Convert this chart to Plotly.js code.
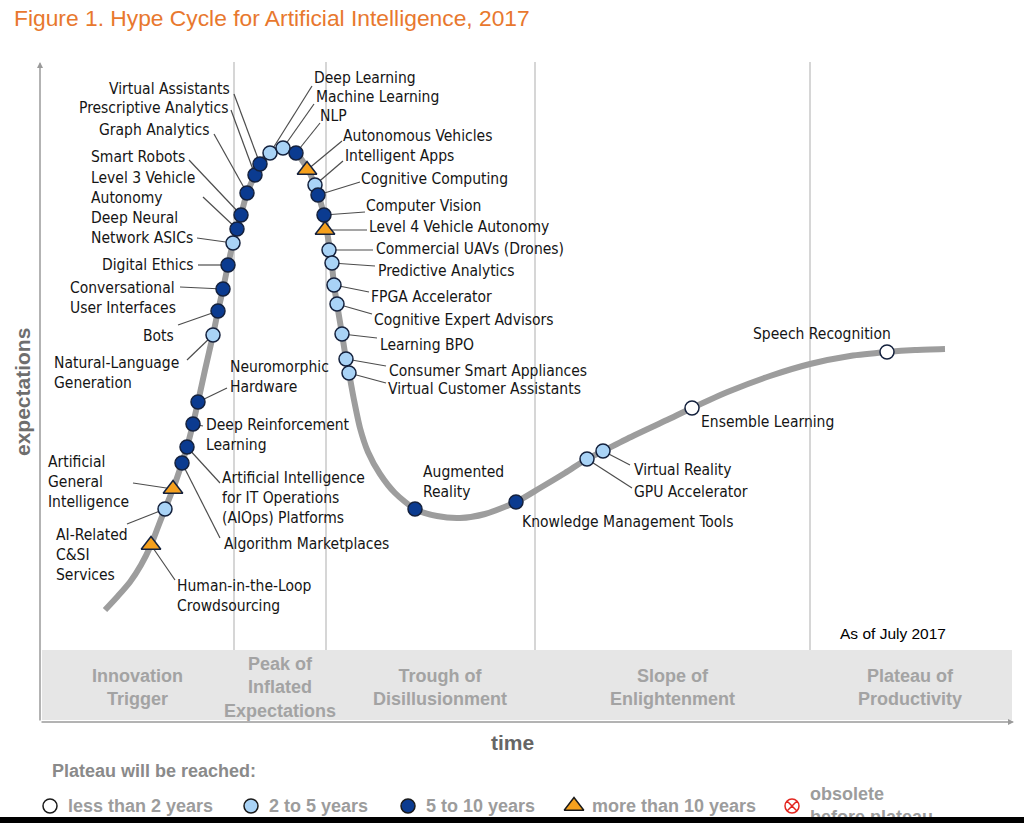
<!DOCTYPE html>
<html><head><meta charset="utf-8">
<script src="https://cdn.plot.ly/plotly-3.0.1.min.js"></script>
<style>html,body{margin:0;padding:0;background:#fff;overflow:hidden}#chart{width:1024px;height:823px}#bar{position:absolute;left:0;top:817px;width:1024px;height:6px;background:#000}</style>
</head><body><div id="chart"></div><div id="bar"></div>
<script>
// ---- Hype curve (time vs expectations) ----
const curveTime = [6.5,7.8,9.0,10.1,11.1,11.8,12.5,13.3,14.2,14.7,15.3,15.8,16.5,17.3,17.8,18.3,18.8,19.3,19.7,20.1,20.7,21.5,22.1,23.0,24.3,25.6,26.7,27.5,27.9,28.4,28.7,29.0,29.2,29.4,29.7,30.2,30.6,30.9,31.4,32.0,32.8,34.0,35.5,37.5,39.7,42.0,44.5,47.6,50.0,52.5,54.7,56.3,59.5,62.7,65.2,69.0,73.0,77.0,81.0,84.7,87.5,90.5];
const curveExpect = [11.2,12.6,14.0,15.7,17.7,19.5,21.3,23.3,25.9,27.5,29.8,32.0,35.2,38.7,41.1,43.3,45.7,47.9,49.3,50.7,52.9,54.7,55.9,56.9,57.4,56.9,55.4,53.7,52.5,50.7,49.0,47.2,45.7,43.7,41.8,38.8,36.3,34.9,32.2,29.4,27.0,24.8,22.9,21.3,20.6,20.4,20.8,22.0,23.4,24.9,26.3,27.1,28.7,30.2,31.4,33.1,34.6,35.8,36.6,37.0,37.2,37.3];

// ---- Technologies ----
const techNames = ["Human-in-the-Loop\nCrowdsourcing","AI-Related\nC&SI\nServices","Artificial\nGeneral\nIntelligence","Algorithm Marketplaces","Artificial Intelligence\nfor IT Operations\n(AIOps) Platforms","Deep Reinforcement\nLearning","Neuromorphic\nHardware","Natural-Language\nGeneration","Bots","Conversational\nUser Interfaces","Digital Ethics","Deep Neural\nNetwork ASICs","Level 3 Vehicle\nAutonomy","Smart Robots","Graph Analytics","Prescriptive Analytics","Virtual Assistants","Deep Learning","Machine Learning","NLP","Autonomous Vehicles","Intelligent Apps","Cognitive Computing","Computer Vision","Level 4 Vehicle Autonomy","Commercial UAVs (Drones)","Predictive Analytics","FPGA Accelerator","Cognitive Expert Advisors","Learning BPO","Consumer Smart Appliances","Virtual Customer Assistants","Augmented\nReality","Knowledge Management Tools","GPU Accelerator","Virtual Reality","Ensemble Learning","Speech Recognition"];
const techTime = [11.1,12.5,13.3,14.2,14.7,15.3,15.8,17.3,17.8,18.3,18.8,19.3,19.7,20.1,20.7,21.5,22.0,23.0,24.3,25.6,26.7,27.5,27.8,28.4,28.5,28.9,29.2,29.4,29.7,30.2,30.6,30.9,37.5,47.6,54.7,56.3,65.2,84.7];
const techExpect = [17.7,21.3,23.3,25.9,27.5,29.8,32.0,38.7,41.1,43.3,45.7,47.9,49.3,50.7,52.9,54.7,55.8,56.9,57.4,56.9,55.2,53.7,52.7,50.7,49.2,47.2,45.9,43.7,41.8,38.8,36.3,34.9,21.3,22.0,26.3,27.1,31.4,37.0];
const techPlateau = ["gt10","2to5","gt10","5to10","5to10","5to10","5to10","2to5","5to10","5to10","5to10","2to5","5to10","5to10","5to10","5to10","5to10","2to5","2to5","5to10","gt10","2to5","5to10","5to10","gt10","2to5","2to5","2to5","2to5","2to5","2to5","2to5","5to10","5to10","2to5","2to5","lt2","lt2"];

// ---- Label placement ----
const labelX = [13.5,9.0,9.1,18.2,18.0,16.4,18.8,14.1,13.6,13.8,15.6,15.5,15.7,14.7,17.2,19.0,19.2,27.2,27.4,27.8,30.1,30.3,31.9,32.4,32.7,33.4,33.6,32.9,33.2,33.8,34.7,34.6,38.1,48.0,59.2,59.2,65.9,71.1];
const labelY = [12.6,16.7,24.0,17.8,22.4,28.7,34.5,34.9,38.6,42.4,45.7,49.4,53.4,56.5,59.2,61.4,63.3,64.4,62.5,60.6,58.6,56.6,54.3,51.6,49.5,47.3,45.1,42.5,40.2,37.7,35.1,33.3,24.0,20.0,23.0,25.2,30.0,38.8];
const labelSide = ["l","r","r","l","l","l","l","r","r","r","r","r","r","r","r","r","r","l","l","l","l","l","l","l","l","l","l","l","l","l","l","l","l","l","l","l","l","l"];
const leaderX = [13.5,8.7,9.3,18.0,18.0,16.3,18.7,14.7,13.8,14.0,15.8,15.7,16.3,14.9,17.4,19.1,19.4,27.2,27.4,28.0,30.2,30.3,32.0,32.5,32.7,33.3,33.5,32.9,33.2,33.7,34.6,34.6,null,null,59.2,59.0,null,null];
const leaderY = [14.2,19.8,23.9,18.4,23.9,29.6,33.4,36.2,39.7,43.5,45.7,48.4,52.5,56.2,58.8,61.2,62.8,63.6,61.8,59.9,58.1,56.1,54.0,51.0,49.2,47.2,45.6,43.0,40.8,38.4,35.6,33.9,null,null,23.4,25.7,null,null];

// ---- Phases ----
const phaseNames = ["Innovation\nTrigger","Peak of\nInflated\nExpectations","Trough of\nDisillusionment","Slope of\nEnlightenment","Plateau of\nProductivity"];
const phaseBounds = [19.4,28.6,49.5,77.0];
const phaseCenters = [9.7,24.0,40.0,63.2,87.0];

// ---- Legend ----
const legendKeys = ["lt2","2to5","5to10","gt10","obs"];
const legendLabels = ["less than 2 years","2 to 5 years","5 to 10 years","more than 10 years","obsolete\nbefore plateau"];
const legendSymX = [1.0,21.1,36.8,53.4,75.2];

const styles = {
  lt2:   {symbol:"circle", color:"#ffffff", size:14},
  "2to5":{symbol:"circle", color:"#a9d3f6", size:14},
  "5to10":{symbol:"circle", color:"#0b3b90", size:14},
  gt10:  {symbol:"triangle-up", color:"#f5a01d", size:17},
  obs:   {symbol:"circle-x-open", color:"#e3261f", size:14}
};
const LABEL_FONT = "'DejaVu Sans Condensed','DejaVu Sans',sans-serif";
const SANS = "'Liberation Sans',Arial,sans-serif";
const br = s => s.replace(/&/g,"&amp;").replace(/\n/g,"<br>");

const traces = [{
  x: curveTime, y: curveExpect, mode:"lines", hoverinfo:"skip",
  line:{color:"#9d9d9d", width:6, shape:"spline", smoothing:0.7}
}];
["lt2","2to5","5to10","gt10"].forEach(k => {
  const idx = techPlateau.map((p,i)=>p===k?i:-1).filter(i=>i>=0);
  traces.push({
    x: idx.map(i=>techTime[i]), y: idx.map(i=>techExpect[i]), text: idx.map(i=>techNames[i]),
    mode:"markers", hoverinfo:"text",
    marker:{symbol:styles[k].symbol, color:styles[k].color, size:styles[k].size, line:{color:"#14213d", width:1.5}}
  });
});
legendKeys.forEach((k,i) => {
  traces.push({
    x:[legendSymX[i]], y:[-8.4], mode:"markers", hoverinfo:"skip",
    marker:{symbol:styles[k].symbol, color:styles[k].color, size:styles[k].size, line:{color: k==="obs"?styles[k].color:"#1a1a1a", width:1.5}}
  });
});

const shapes = [];
shapes.push({type:"rect", xref:"x", yref:"y", x0:0.2, x1:97.2, y0:0.2, y1:7.2, fillcolor:"#e6e6e6", line:{width:0}, layer:"below"});
phaseBounds.forEach(b => shapes.push({type:"line", xref:"x", yref:"y", x0:b, x1:b, y0:7.2, y1:66.0, line:{color:"#c9c9c9", width:1.5}, layer:"below"}));
techNames.forEach((n,i) => {
  if (leaderX[i] === null) return;
  shapes.push({type:"line", xref:"x", yref:"y", x0:leaderX[i], y0:leaderY[i], x1:techTime[i], y1:techExpect[i], line:{color:"#4d4d4d", width:1.2}, layer:"below"});
});

const annotations = [];
techNames.forEach((n,i) => annotations.push({
  x:labelX[i], y:labelY[i], xref:"x", yref:"y", text:br(n), showarrow:false,
  xanchor: labelSide[i]==="r"?"right":"left", yanchor:"middle", align:"left",
  font:{family:LABEL_FONT, size:15.5, color:"#151515"}
}));
phaseNames.forEach((n,i) => annotations.push({
  x:phaseCenters[i], y:3.5, xref:"x", yref:"y", text:"<b>"+br(n)+"</b>", showarrow:false,
  xanchor:"center", yanchor:"middle", align:"center",
  font:{family:SANS, size:18, color:"#a3a3a3"}
}));
// axis arrows
annotations.push({x:0, y:66.0, ax:0, ay:0, axref:"x", ayref:"y", xref:"x", yref:"y", text:"", showarrow:true, arrowhead:2, arrowsize:0.8, arrowwidth:1.5, arrowcolor:"#9a9a9a"});
annotations.push({x:97.4, y:0, ax:0, ay:0, axref:"x", ayref:"y", xref:"x", yref:"y", text:"", showarrow:true, arrowhead:2, arrowsize:0.8, arrowwidth:1.5, arrowcolor:"#9a9a9a"});
annotations.push({x:47.2, y:-2.0, xref:"x", yref:"y", text:"<b>time</b>", showarrow:false, xanchor:"center", yanchor:"middle", font:{family:SANS, size:21, color:"#666666"}});
annotations.push({x:-1.8, y:33.0, xref:"x", yref:"y", text:"<b>expectations</b>", textangle:-90, showarrow:false, xanchor:"center", yanchor:"middle", font:{family:SANS, size:21, color:"#6e6e6e"}});
annotations.push({x:79.8, y:8.9, xref:"x", yref:"y", text:"As of July 2017", showarrow:false, xanchor:"left", yanchor:"middle", font:{family:SANS, size:15.5, color:"#000000"}});
annotations.push({x:1.0, y:-4.9, xref:"x", yref:"y", text:"<b>Plateau will be reached:</b>", showarrow:false, xanchor:"left", yanchor:"middle", font:{family:SANS, size:18, color:"#8a8a8a"}});
legendLabels.forEach((t,i) => annotations.push({
  x:legendSymX[i]+1.6, y: i===4 ? -8.3 : -8.4, xref:"x", yref:"y", text:"<b>"+br(t)+"</b>", showarrow:false,
  xanchor:"left", yanchor:"middle", align:"left", font:{family:SANS, size:18, color:"#9c9c9c"}
}));

const layout = {
  width:1024, height:823, margin:{l:0,r:0,t:0,b:0,pad:0},
  paper_bgcolor:"#ffffff", plot_bgcolor:"#ffffff", showlegend:false,
  title:{text:"Figure 1. Hype Cycle for Artificial Intelligence, 2017", xref:"container", yref:"container", x:14/1024, xanchor:"left", y:1-18/823, yanchor:"middle",
    font:{family:SANS, size:22.8, color:"#e8782e"}},
  xaxis:{range:[-4,98.4], visible:false, fixedrange:true},
  yaxis:{range:[-10.1,72.2], visible:false, fixedrange:true},
  shapes:shapes, annotations:annotations
};
Plotly.newPlot("chart", traces, layout, {displayModeBar:false, staticPlot:true});
</script></body></html>
